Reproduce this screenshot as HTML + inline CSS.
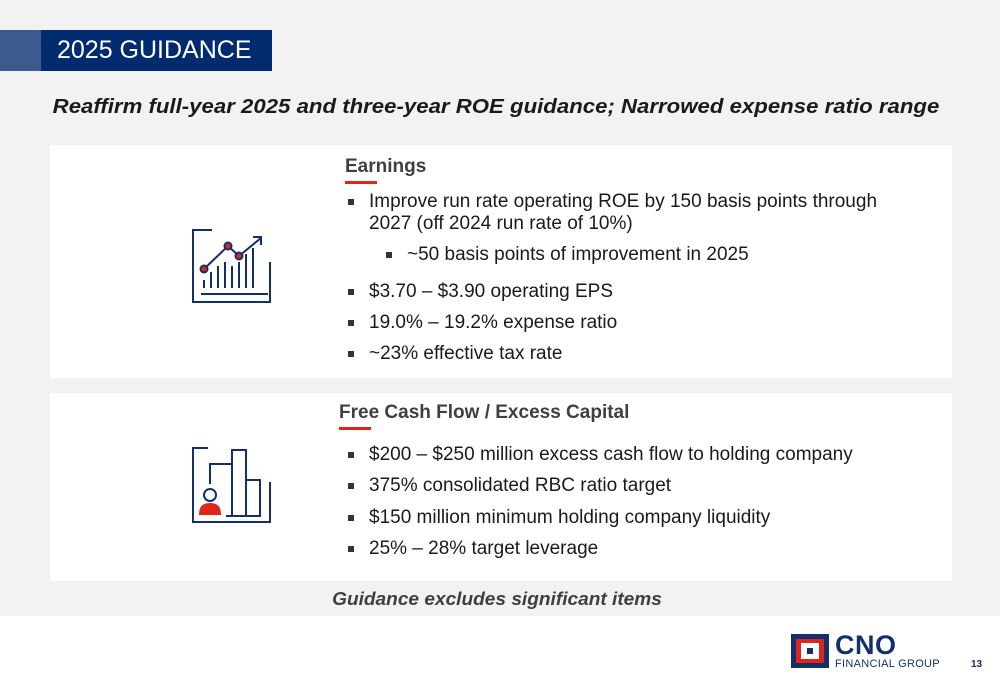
<!DOCTYPE html>
<html><head><meta charset="utf-8">
<style>
*{margin:0;padding:0;box-sizing:border-box}
body{width:1000px;height:685px;background:#fff;font-family:"Liberation Sans",Arial,sans-serif;position:relative;overflow:hidden;color:#1a1a1a}
.abs{position:absolute}
.bg{left:0;top:0;width:1000px;height:616px;background:#f2f2f2}
.panel{background:#fff;left:50px;width:902px}
.h{font-weight:bold;font-size:19px;color:#3f3f3f}
.ul{height:3px;width:32px;background:#e1251b}
.li{font-size:19px;color:#1a1a1a;white-space:nowrap}
.li .b{position:absolute;left:-21px;top:8px;width:6px;height:6px;background:#333}
</style></head><body>
<div class="abs bg"></div>
<div class="abs" style="left:0;top:30px;width:41px;height:41px;background:#3c5a8e"></div>
<div class="abs" style="left:41px;top:30px;width:231px;height:41px;background:#002b6f;color:#fff;font-size:25px;line-height:41px;padding-left:16px">2025 GUIDANCE</div>
<div class="abs" style="left:0;width:992px;top:96px;text-align:center;font-size:20px;font-weight:bold;font-style:italic;color:#1a1a1a;transform:scaleX(1.11);transform-origin:496px 0">Reaffirm full-year 2025 and three-year ROE guidance; Narrowed expense ratio range</div>

<div class="abs panel" style="top:145px;height:233px"></div>
<svg class="abs" style="left:188px;top:226px" width="86" height="80" fill="none" stroke="#13306b" stroke-width="2">
<path d="M24 4 H5 V76 H82 V36"/>
<path d="M13 68 H80"/>
<path d="M16 54v8M23 46v16M30 40v22M37 36v26M44 40v22M51 36v26M58 28v34M65 22v40"/>
<path d="M16 43 L40 20 L51 30 L73 12"/><path d="M65 11 L73 11 L73 19"/>
<circle cx="16" cy="43" r="3.5" fill="#e1251b"/><circle cx="40" cy="20" r="3.5" fill="#e1251b"/><circle cx="51" cy="30" r="3.5" fill="#e1251b"/>
</svg>
<div class="abs h" style="left:345px;top:156px">Earnings</div>
<div class="abs ul" style="left:345px;top:181px"></div>
<div class="abs li" style="left:369px;top:191px;line-height:22px"><span class="b"></span>Improve run rate operating ROE by 150 basis points through<br>2027 (off 2024 run rate of 10%)</div>
<div class="abs li" style="left:407px;top:244px"><span class="b"></span>~50 basis points of improvement in 2025</div>
<div class="abs li" style="left:369px;top:281px"><span class="b"></span>$3.70 – $3.90 operating EPS</div>
<div class="abs li" style="left:369px;top:312px"><span class="b"></span>19.0% – 19.2% expense ratio</div>
<div class="abs li" style="left:369px;top:343px"><span class="b"></span>~23% effective tax rate</div>

<div class="abs panel" style="top:393px;height:188px"></div>
<svg class="abs" style="left:188px;top:446px" width="86" height="80" fill="none" stroke="#13306b" stroke-width="2">
<path d="M20 2 H5 V76 H82 V36"/>
<path d="M22 38 V18 H44 V70 H38"/>
<rect x="44" y="4" width="14" height="66"/>
<rect x="58" y="34" width="14" height="36"/>
<circle cx="22" cy="49" r="6"/>
<path d="M12 68 Q12 58 22 58 Q32 58 32 68 Z" fill="#e1251b" stroke="#e1251b"/>
</svg>
<div class="abs h" style="left:339px;top:402px">Free Cash Flow / Excess Capital</div>
<div class="abs ul" style="left:339px;top:427px"></div>
<div class="abs li" style="left:369px;top:444px"><span class="b"></span>$200 – $250 million excess cash flow to holding company</div>
<div class="abs li" style="left:369px;top:475px"><span class="b"></span>375% consolidated RBC ratio target</div>
<div class="abs li" style="left:369px;top:507px"><span class="b"></span>$150 million minimum holding company liquidity</div>
<div class="abs li" style="left:369px;top:538px"><span class="b"></span>25% – 28% target leverage</div>

<div class="abs" style="left:0;width:994px;top:589px;text-align:center;font-size:18px;font-weight:bold;font-style:italic;color:#3f3f3f;transform:scaleX(1.06);transform-origin:497px 0">Guidance excludes significant items</div>

<div class="abs" style="left:791px;top:634px;width:38px;height:34px;background:#13306b">
<div class="abs" style="left:5px;top:5px;width:28px;height:24px;background:#e1251b"></div>
<div class="abs" style="left:10px;top:9px;width:18px;height:16px;background:#fff"></div>
<div class="abs" style="left:16px;top:14px;width:6px;height:6px;background:#13306b"></div>
</div>
<div class="abs" style="left:835px;top:630px;font-size:27px;font-weight:bold;color:#13306b;letter-spacing:0.5px">CNO</div>
<div class="abs" style="left:835px;top:658px;font-size:11px;color:#13306b;letter-spacing:0.3px">FINANCIAL GROUP</div>
<div class="abs" style="left:971px;top:659px;font-size:10px;font-weight:bold;color:#13306b">13</div>
</body></html>
